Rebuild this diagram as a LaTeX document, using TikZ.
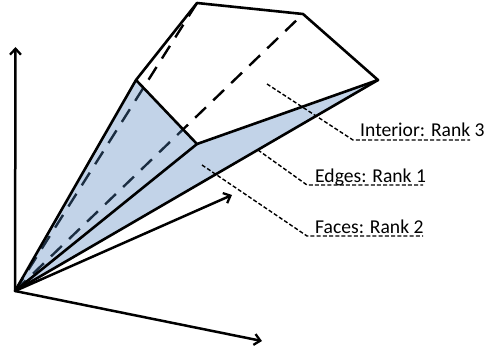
\documentclass[tikz,border=0pt]{standalone}
\usepackage{fontspec}
\setmainfont{Carlito}
\usetikzlibrary{arrows.meta}
\definecolor{facefill}{HTML}{4F81BD}
\tikzset{
  x=1pt,y=-1pt,
  edgeline/.style={line width=2.6pt,line join=round,line cap=round,black},
  hidden/.style={line width=2.4pt,black,dash pattern=on 15pt off 10pt},
  axisline/.style={line width=2.5pt,-{Straight Barb[length=6pt,width=11pt,line width=2.3pt]}},
  leader/.style={line width=1.4pt,black,dash pattern=on 4pt off 2.2pt},
  lab/.style={anchor=base west,inner sep=0pt,font=\fontsize{19.6}{22}\selectfont,text=black}
}
\begin{document}
\begin{tikzpicture}
\useasboundingbox (0,0) rectangle (486,351);
\coordinate (O) at (15,291);
\coordinate (A) at (136,80);
\coordinate (B) at (197,3);
\coordinate (C) at (303,14);
\coordinate (D) at (378,80);
\coordinate (E) at (197,144);
\coordinate (Xt) at (262,341);
\coordinate (Yt) at (232,195);
\coordinate (Zt) at (15.5,47);
% hidden edges
\draw[hidden] (O) -- (B);
\draw[hidden] (O) -- (C);
% faces (translucent)
\fill[facefill,fill opacity=.35] (O) -- (A) -- (E) -- (D) -- cycle;
% labels and leaders
\node[lab] (interior) at (360,136) {Interior: Rank 3};
\node[lab] (edges) at (315,182) {Edges: Rank 1};
\node[lab] (faces) at (315,233) {Faces: Rank 2};
\coordinate (i0) at (267,84);  \coordinate (i1) at (353,140); \coordinate (i2) at (470,140);
\coordinate (e0) at (258,150); \coordinate (e1) at (307,185); \coordinate (e2) at (423,185);
\coordinate (f0) at (202,165); \coordinate (f1) at (307,236); \coordinate (f2) at (423,236);
\draw[leader] (i0) -- (i1) -- (i2);
\draw[leader] (e0) -- (e1) -- (e2);
\draw[leader] (f0) -- (f1) -- (f2);
% solid edges
\draw[edgeline] (O) -- (A) -- (B) -- (C) -- (D) -- (E) -- (A);
\draw[edgeline] (O) -- (E);
\draw[edgeline] (O) -- (D);
% axes
\draw[axisline] (O) -- (Zt);
\draw[axisline] (O) -- (Yt);
\draw[axisline] (O) -- (Xt);
\end{tikzpicture}
\end{document}
